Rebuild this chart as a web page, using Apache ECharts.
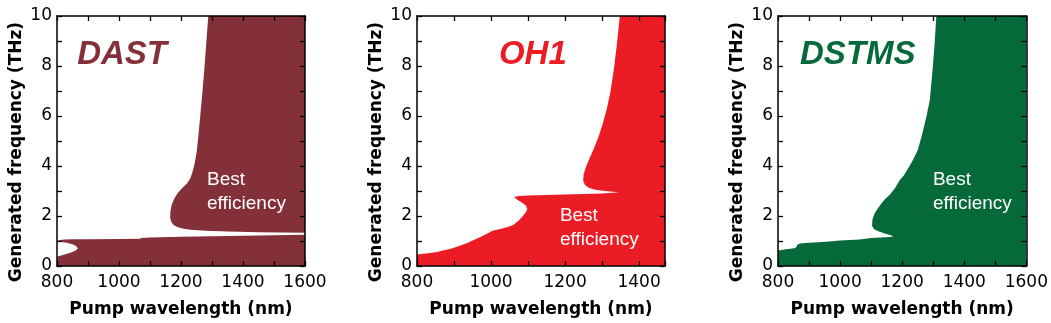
<!DOCTYPE html>
<html>
<head>
<meta charset="utf-8">
<script src="https://cdn.jsdelivr.net/npm/echarts@6/dist/echarts.min.js"></script>
<style>
  html, body { margin: 0; padding: 0; background: #fff; }
  #chart { width: 1051px; height: 323px; }
</style>
</head>
<body>
<div id="chart"></div>
<script>
// ---------- data ----------
const panelNames = ['DAST', 'OH1', 'DSTMS'];
const panelColors = ['#843038', '#ec1c24', '#05693a'];
const xMin = 800;
const xMaxes = [1600, 1470, 1600];
const yMin = 0, yMax = 10;
const xTickLabels = [800, 1000, 1200, 1400, 1600];
const yTickLabels = [0, 2, 4, 6, 8, 10];
const xAxisName = 'Pump wavelength (nm)';
const yAxisName = 'Generated frequency (THz)';
const noteText = 'Best\nefficiency';

// filled regions, [wavelength nm, frequency THz]
const dastUpper = [[1288,10],[1600,10],[1600,1.33],[1450,1.35],[1350,1.38],[1280,1.41],[1230,1.45],[1205,1.5],
  [1188,1.56],[1175,1.65],[1168,1.78],[1165,1.95],[1166,2.2],[1170,2.45],[1177,2.66],[1185,2.84],[1195,3.0],
  [1207,3.16],[1218,3.28],[1230,3.5],[1238,3.8],[1244,4.1],[1251,4.6],[1256,5.2],[1262,6.0],[1268,6.8],
  [1276,8],[1282,9]];
const dastLower = [[800,0],[1600,0],[1600,1.25],[1500,1.23],[1400,1.21],[1300,1.19],[1200,1.17],[1100,1.14],
  [1072,1.12],[1068,1.09],[1000,1.08],[900,1.07],[850,1.07],[825,1.06],[810,1.04],[800,1.0],[800,0.97],
  [815,0.96],[835,0.92],[852,0.86],[863,0.78],[867,0.70],[860,0.62],[845,0.54],[825,0.46],[810,0.41],[800,0.37]];
const oh1Region = [[800,0],[1470,0],[1470,10],[1348,10],[1341,9],[1333,8],[1323,7],[1313,6.3],[1302,5.7],
  [1290,5.15],[1278,4.7],[1266,4.3],[1256,3.95],[1250,3.65],[1249,3.4],[1254,3.24],[1265,3.12],[1285,3.04],
  [1315,2.99],[1345,2.95],[1300,2.9],[1200,2.86],[1100,2.82],[1075,2.8],[1062,2.76],[1071,2.65],[1085,2.52],
  [1094,2.42],[1098,2.28],[1094,2.15],[1086,2.0],[1075,1.82],[1060,1.64],[1045,1.56],[1030,1.5],[1013,1.44],
  [1004,1.41],[990,1.3],[970,1.15],[950,1.02],[936,0.92],[910,0.78],[891,0.69],[870,0.62],[855,0.56],
  [830,0.51],[800,0.46]];
const dstmsRegion = [[800,0],[1600,0],[1600,10],[1310,10],[1305,9],[1299,8],[1289,6.64],[1278,5.97],
  [1265,5.3],[1250,4.63],[1235,4.25],[1220,3.92],[1205,3.62],[1192,3.43],[1176,3.1],[1160,2.85],[1145,2.68],
  [1133,2.5],[1120,2.28],[1111,2.1],[1104,1.85],[1103,1.6],[1110,1.47],[1125,1.38],[1144,1.3],[1160,1.24],
  [1172,1.19],[1160,1.16],[1100,1.12],[1063,1.06],[1000,1.02],[956,0.97],[900,0.93],[870,0.9],[862,0.84],
  [858,0.74],[852,0.71],[840,0.69],[820,0.66],[800,0.62]];
const panelRegions = [[dastUpper, dastLower], [oh1Region], [dstmsRegion]];

// text anchors (data coords)
const titleAnchors = [[1010, 8.44], [1113, 8.44], [1057, 8.44]];
const noteAnchors = [[1284, 2.97], [1186, 1.51], [1299, 2.95]];

// ---------- chart ----------
const chart = echarts.init(document.getElementById('chart'), null, { renderer: 'canvas' });
const gridLefts = [57, 417, 778];
const gridWidths = [248, 248, 249];

const grids = [], xAxes = [], yAxes = [], series = [];
const axisFont = 'DejaVu Sans';

function baseAxis(extra) {
  return Object.assign({
    type: 'value',
    z: 10,
    splitLine: { show: false },
    axisLine: { show: true, onZero: false, lineStyle: { color: '#000', width: 1.5 } },
    axisTick: { show: true, inside: true, length: 5, lineStyle: { color: '#000', width: 1.3 } }
  }, extra);
}

for (let i = 0; i < 3; i++) {
  grids.push({ left: gridLefts[i], top: 16, width: gridWidths[i], height: 250, containLabel: false });
  xAxes.push(baseAxis({
    gridIndex: i, position: 'bottom', min: xMin, max: xMaxes[i], interval: 100,
    axisLabel: {
      show: true, margin: 8, color: '#000', fontFamily: axisFont, fontSize: 17,
      formatter: v => xTickLabels.includes(v) ? String(v) : '',
      showMinLabel: true, showMaxLabel: true
    },
    name: xAxisName, nameLocation: 'middle', nameGap: 35,
    nameTextStyle: { color: '#000', fontFamily: axisFont, fontSize: 17, fontWeight: 'bold' }
  }));
  xAxes.push(baseAxis({
    gridIndex: i, position: 'top', min: xMin, max: xMaxes[i], interval: 100,
    axisLabel: { show: false }
  }));
  yAxes.push(baseAxis({
    gridIndex: i, position: 'left', min: yMin, max: yMax, interval: 1,
    axisLabel: {
      show: true, margin: 5, color: '#000', fontFamily: axisFont, fontSize: 17,
      formatter: v => yTickLabels.includes(v) ? String(v) : ''
    },
    name: yAxisName, nameLocation: 'middle', nameGap: 32, nameRotate: 90,
    nameTextStyle: { color: '#000', fontFamily: axisFont, fontSize: 17, fontWeight: 'bold', padding: [0, 22, 0, 0] }
  }));
  yAxes.push(baseAxis({
    gridIndex: i, position: 'right', min: yMin, max: yMax, interval: 1,
    axisLabel: { show: false }
  }));

  panelRegions[i].forEach(region => {
    series.push({
      type: 'custom',
      xAxisIndex: 2 * i, yAxisIndex: 2 * i,
      clip: true,
      silent: true,
      data: region,
      renderItem: (params, api) => {
        if (params.dataIndex !== 0) return;
        const pts = region.map(p => api.coord(p));
        return { type: 'polygon', shape: { points: pts }, style: { fill: panelColors[i], stroke: null } };
      }
    });
  });

  // panel title
  series.push({
    type: 'custom', xAxisIndex: 2 * i, yAxisIndex: 2 * i, silent: true, z: 5,
    data: [titleAnchors[i]],
    renderItem: (params, api) => {
      const p = api.coord([api.value(0), api.value(1)]);
      return {
        type: 'text', x: p[0], y: p[1],
        style: {
          text: panelNames[i], fill: panelColors[i],
          fontFamily: 'Liberation Sans', fontSize: 33, fontWeight: 'bold', fontStyle: 'italic',
          align: 'center', verticalAlign: 'middle'
        }
      };
    }
  });
  // note
  series.push({
    type: 'custom', xAxisIndex: 2 * i, yAxisIndex: 2 * i, silent: true, z: 5,
    data: [noteAnchors[i]],
    renderItem: (params, api) => {
      const p = api.coord([api.value(0), api.value(1)]);
      return {
        type: 'text', x: p[0], y: p[1],
        style: {
          text: noteText, fill: '#ffffff',
          fontFamily: 'Liberation Sans', fontSize: 19, lineHeight: 24,
          align: 'left', verticalAlign: 'middle'
        }
      };
    }
  });
}

chart.setOption({
  animation: false,
  backgroundColor: '#ffffff',
  grid: grids,
  xAxis: xAxes,
  yAxis: yAxes,
  series: series
});
</script>
</body>
</html>
